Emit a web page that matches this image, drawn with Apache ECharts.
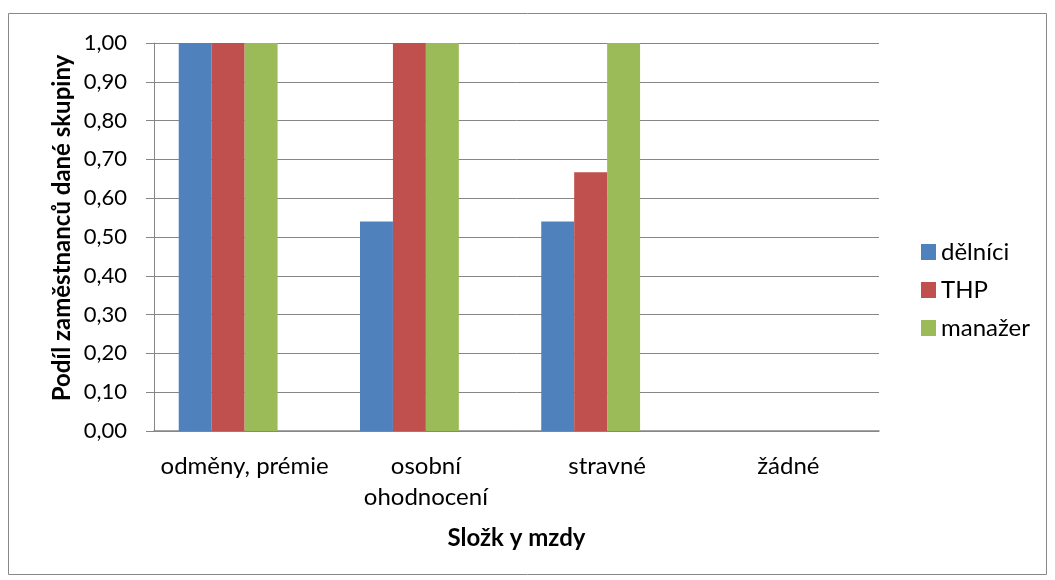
<!DOCTYPE html>
<html>
<head>
<meta charset="utf-8">
<script src="https://cdn.jsdelivr.net/npm/echarts@6/dist/echarts.min.js"></script>
<style>
  html, body { margin: 0; padding: 0; background: #fff; }
  #chart { width: 1055px; height: 580px; }
</style>
</head>
<body>
<div id="chart"></div>
<script>
// Wage components and share of employees in each group receiving them
const categories = ['odměny, prémie', 'osobní\nohodnocení', 'stravné', 'žádné'];
const seriesNames = ['dělníci', 'THP', 'manažer'];
const delnici = [1.00, 0.54, 0.54, 0];
const thp = [1.00, 1.00, 0.667, 0];
const manazer = [1.00, 1.00, 1.00, 0];
// fourth slot in every group stays empty (no values), so bars sit left of centre
const empty = [null, null, null, null];
const yTicks = [0, 0.1, 0.2, 0.3, 0.4, 0.5, 0.6, 0.7, 0.8, 0.9, 1.0];
const colors = ['#4F81BD', '#C0504D', '#9BBB59'];

const font = 'Lato, "Open Sans", sans-serif';
const chart = echarts.init(document.getElementById('chart'), null, { renderer: 'canvas' });

const mkSeries = (name, data, color) => ({
  name, type: 'bar', data,
  barGap: '0%', barCategoryGap: '27.3%',
  itemStyle: { color },
  emphasis: { disabled: true },
  animation: false
});

chart.setOption({
  animation: false,
  textStyle: { fontFamily: font },
  graphic: [{
    type: 'rect',
    shape: { x: 8.5, y: 13.5, width: 1038, height: 561 },
    style: { fill: 'none', stroke: '#888', lineWidth: 1 },
    silent: true
  }, {
    type: 'text',
    x: 62, y: 228,
    rotation: Math.PI / 2,
    style: {
      text: 'Podíl zaměstnanců dané skupiny',
      font: 'bold 24px ' + font,
      fill: '#000',
      align: 'center',
      verticalAlign: 'middle'
    },
    silent: true
  }],
  grid: { left: 154, right: 176, top: 43, bottom: 149 },
  legend: {
    orient: 'vertical',
    left: 921, top: 240,
    padding: 0,
    itemWidth: 15, itemHeight: 16, itemGap: 14,
    icon: 'rect',
    textStyle: { fontFamily: font, fontSize: 24, color: '#000' },
    data: seriesNames
  },
  xAxis: {
    type: 'category',
    data: categories,
    name: 'Složk y mzdy',
    nameLocation: 'middle',
    nameGap: 95,
    nameTextStyle: { fontFamily: font, fontSize: 24, fontWeight: 'bold', color: '#000' },
    axisLine: { lineStyle: { color: '#868686', width: 1.5 } },
    axisTick: { show: false },
    axisLabel: { fontFamily: font, fontSize: 24, color: '#000', margin: 20, lineHeight: 31, interval: 0 }
  },
  yAxis: {
    type: 'value',
    min: yTicks[0], max: yTicks[yTicks.length - 1], interval: 0.1,
    axisLine: { show: true, lineStyle: { color: '#868686', width: 1 } },
    axisTick: { show: true, length: 8, lineStyle: { color: '#868686' } },
    splitLine: { lineStyle: { color: '#868686', width: 1 } },
    axisLabel: {
      fontFamily: font, fontSize: 22, color: '#000', margin: 27,
      formatter: v => v.toFixed(2).replace('.', ',')
    }
  },
  series: [
    mkSeries(seriesNames[0], delnici, colors[0]),
    mkSeries(seriesNames[1], thp, colors[1]),
    mkSeries(seriesNames[2], manazer, colors[2]),
    mkSeries('', empty, 'transparent')
  ]
});
</script>
</body>
</html>
